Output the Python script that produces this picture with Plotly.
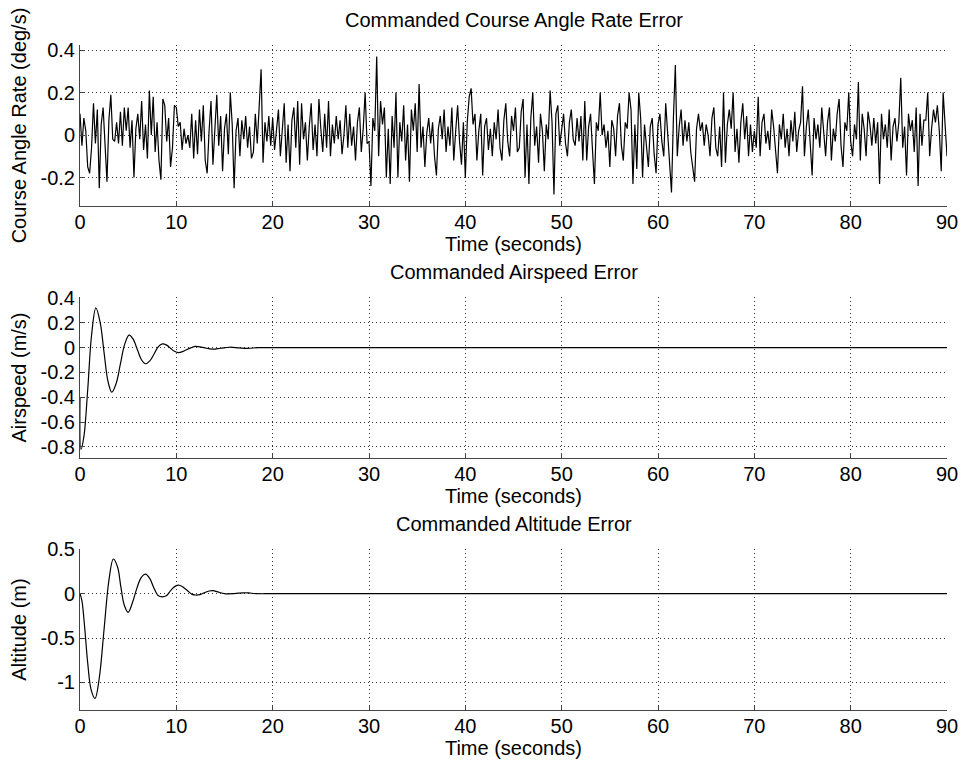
import plotly.graph_objects as go

# ---------------- data ----------------
# Course angle rate error (deg/s), sampled every 0.2 s from 0 to 90 s
t_rate_step = 0.2
rate_0_10 = [0.10, -0.05, 0.08, 0.02, -0.15, -0.18, -0.06, 0.15, -0.04, 0.12,
             -0.25, 0.05, 0.13, -0.03, -0.22, 0.07, 0.19, -0.02, -0.03, 0.06,
             -0.04, 0.11, -0.05, 0.13, 0.02, 0.13, -0.06, 0.07, -0.20, 0.03,
             0.10, -0.02, 0.16, -0.07, 0.05, -0.11, 0.21, 0.00, 0.18, -0.08,
             0.06, -0.12, -0.21, 0.17, 0.14, -0.03, 0.08, -0.15, -0.06, 0.14]
rate_10_20 = [0.13, 0.04, 0.06, -0.07, 0.03, -0.04, 0.00, -0.06, 0.10, -0.11,
              0.07, -0.09, 0.12, -0.03, 0.14, -0.12, -0.18, 0.02, 0.16, -0.14,
              0.04, 0.19, -0.05, 0.09, -0.17, 0.03, 0.10, -0.09, 0.20, 0.05,
              -0.25, 0.02, 0.08, -0.10, 0.07, -0.02, 0.09, -0.06, 0.04, -0.11,
              -0.08, 0.10, -0.04, 0.13, 0.31, -0.13, 0.06, -0.03, 0.09, -0.05]
rate_20_30 = [0.08, -0.07, 0.04, 0.12, -0.10, 0.02, 0.15, -0.13, 0.05, -0.17,
              0.07, 0.13, -0.06, 0.16, -0.14, 0.15, -0.02, 0.06, -0.12, 0.04,
              0.15, -0.07, 0.05, -0.10, 0.17, 0.03, -0.08, 0.10, -0.06, 0.16,
              -0.10, 0.05, -0.04, 0.09, -0.02, 0.07, -0.09, 0.00, 0.14, -0.06,
              0.10, -0.05, 0.04, -0.12, 0.06, 0.13, -0.08, 0.03, 0.20, -0.04]
rate_30_40 = [-0.03, -0.24, 0.08, 0.02, 0.37, -0.10, 0.16, 0.05, 0.13, -0.20,
              0.03, -0.23, 0.09, -0.06, 0.20, -0.20, 0.06, -0.03, 0.14, -0.12,
              0.05, -0.22, 0.12, 0.02, 0.15, -0.08, 0.24, -0.06, 0.04, -0.15,
              0.01, 0.08, -0.04, 0.06, -0.10, -0.19, 0.03, 0.09, -0.02, 0.12,
              -0.08, 0.04, -0.05, 0.13, -0.12, 0.02, 0.14, -0.03, -0.14, 0.06]
rate_40_50 = [-0.20, 0.06, 0.18, 0.22, 0.05, 0.10, -0.12, 0.02, 0.10, -0.19,
              0.04, 0.08, -0.07, 0.03, -0.10, 0.06, -0.02, 0.12, -0.06, -0.12,
              0.07, 0.15, -0.03, -0.10, 0.09, 0.02, 0.13, -0.08, -0.06, 0.11,
              0.17, -0.20, 0.05, -0.23, 0.08, 0.20, -0.05, 0.04, -0.13, 0.10,
              0.02, -0.17, 0.05, -0.02, 0.21, 0.06, -0.28, 0.10, 0.14, -0.05]
rate_50_60 = [0.03, 0.10, -0.04, -0.10, 0.06, 0.12, -0.02, -0.05, 0.08, -0.03,
              0.09, -0.12, 0.16, -0.12, 0.04, 0.10, -0.07, -0.23, 0.06, 0.02,
              0.20, 0.00, 0.05, -0.06, 0.02, -0.15, 0.07, 0.03, -0.10, 0.09,
              0.15, -0.05, -0.12, 0.06, 0.03, 0.20, 0.12, -0.23, 0.05, -0.16,
              0.20, 0.08, -0.20, 0.05, -0.05, -0.15, 0.04, 0.08, -0.09, -0.18]
rate_60_70 = [0.05, 0.10, -0.03, -0.10, 0.15, 0.02, -0.13, -0.27, 0.08, 0.33,
              -0.10, 0.04, 0.12, -0.05, 0.07, -0.03, 0.06, -0.08, -0.15, -0.22,
              0.03, 0.10, 0.02, 0.06, -0.05, 0.05, 0.00, -0.10, 0.08, 0.13,
              -0.06, -0.10, 0.04, -0.15, 0.20, -0.13, 0.05, 0.12, 0.03, 0.20,
              -0.08, 0.03, -0.13, 0.06, 0.15, -0.02, 0.09, -0.10, 0.05, -0.08]
rate_70_80 = [0.02, -0.06, 0.18, -0.10, 0.06, 0.10, -0.04, 0.02, -0.07, 0.12,
              0.04, -0.09, -0.18, 0.05, -0.02, 0.10, -0.06, 0.03, -0.10, 0.07,
              -0.03, 0.11, -0.08, 0.02, 0.06, 0.23, -0.10, 0.04, 0.12, -0.04,
              -0.19, 0.08, -0.02, 0.05, -0.06, 0.13, 0.01, -0.10, 0.06, 0.13,
              -0.12, 0.03, -0.03, 0.10, 0.17, -0.05, -0.15, 0.06, 0.02, 0.20]
rate_80_90 = [-0.03, -0.10, 0.05, -0.02, 0.25, -0.12, 0.10, 0.03, -0.10, 0.11,
              0.05, -0.05, 0.08, -0.04, 0.06, -0.23, 0.10, -0.02, 0.05, -0.06,
              0.12, -0.12, 0.04, 0.08, -0.03, 0.06, 0.27, -0.06, 0.04, -0.19,
              0.10, 0.02, 0.07, -0.08, 0.13, -0.24, 0.10, -0.05, 0.07, 0.07,
              0.20, -0.10, 0.03, 0.12, 0.06, 0.14, 0.02, -0.17, 0.20, 0.05,
              -0.10]
course_rate = (rate_0_10 + rate_10_20 + rate_20_30 + rate_30_40 + rate_40_50
               + rate_50_60 + rate_60_70 + rate_70_80 + rate_80_90)
course_time = [round(i * t_rate_step, 2) for i in range(len(course_rate))]

# Airspeed error (m/s)
airspeed_time = [0, 0.1, 0.4, 0.8, 1.2, 1.65, 2.1, 2.5, 2.9, 3.3, 3.75, 4.2, 4.65,
                 5.1, 5.5, 5.95, 6.4, 6.8, 7.25, 7.7, 8.1, 8.55, 9.0, 9.4, 9.8,
                 10.25, 10.7, 11.1, 11.55, 12.0, 12.85, 13.7, 14.6, 15.5, 16.5,
                 17.4, 18.5, 20, 30, 40, 50, 60, 70, 80, 90]
airspeed_err = [-0.40, -0.82, -0.72, -0.34, 0.10, 0.32, 0.20, -0.04, -0.27, -0.36,
                -0.29, -0.13, 0.03, 0.10, 0.07, -0.015, -0.10, -0.13, -0.107,
                -0.05, 0.005, 0.03, 0.02, -0.005, -0.03, -0.04, -0.03, -0.015,
                0.0, 0.01, 0.0, -0.012, -0.005, 0.003, -0.002, -0.006, 0.0, 0.0,
                0.0, 0.0, 0.0, 0.0, 0.0, 0.0, 0.0]

# Altitude error (m)
altitude_time = [0, 0.2, 0.5, 0.8, 1.15, 1.56, 2.0, 2.5, 3.0, 3.46, 3.9, 4.25, 4.6,
                 5.0, 5.45, 5.9, 6.35, 6.8, 7.25, 7.65, 8.1, 8.55, 9.0, 9.45, 9.9,
                 10.3, 10.75, 11.2, 11.6, 12.0, 12.45, 12.9, 13.4, 13.8, 14.3,
                 15.0, 16.0, 17.0, 17.5, 18.3, 20, 30, 40, 50, 60, 70, 80, 90]
altitude_err = [0.0, -0.08, -0.40, -0.78, -1.08, -1.18, -0.95, -0.40, 0.15, 0.39,
                0.30, 0.07, -0.13, -0.21, -0.10, 0.06, 0.18, 0.22, 0.17, 0.07,
                -0.02, -0.035, -0.02, 0.04, 0.085, 0.095, 0.07, 0.03, -0.005,
                -0.015, -0.01, 0.01, 0.03, 0.035, 0.02, 0.0, 0.0, 0.01, 0.008,
                0.0, 0.0, 0.0, 0.0, 0.0, 0.0, 0.0, 0.0, 0.0]

# Titles and tick labels
panel_titles = ["Commanded Course Angle Rate Error", "Commanded Airspeed Error",
                "Commanded Altitude Error"]
y_titles = ["Course Angle Rate (deg/s)", "Airspeed (m/s)", "Altitude (m)"]
x_title = "Time (seconds)"
x_tickvals = [0, 10, 20, 30, 40, 50, 60, 70, 80, 90]
x_ticktext = ["0", "10", "20", "30", "40", "50", "60", "70", "80", "90"]
y1_tickvals = [-0.2, 0, 0.2, 0.4]
y1_ticktext = ["-0.2", "0", "0.2", "0.4"]
y2_tickvals = [-0.8, -0.6, -0.4, -0.2, 0, 0.2, 0.4]
y2_ticktext = ["-0.8", "-0.6", "-0.4", "-0.2", "0", "0.2", "0.4"]
y3_tickvals = [-1, -0.5, 0, 0.5]
y3_ticktext = ["-1", "-0.5", "0", "0.5"]

# ---------------- figure ----------------
FONT = "Arial, Liberation Sans, Helvetica, sans-serif"
FS = 20
W, H = 963, 765
ML, MR, MT, MB = 80, 16, 45, 55
ph = H - MT - MB

def dom(top_px, bot_px):
    return [(H - MB - bot_px) / ph, (H - MB - top_px) / ph]

doms = [dom(45, 206), dom(297, 458), dom(549, 710)]
yranges = [[-0.334, 0.424], [-0.89, 0.408], [-1.31, 0.503]]
yticks = [(y1_tickvals, y1_ticktext), (y2_tickvals, y2_ticktext), (y3_tickvals, y3_ticktext)]

fig = go.Figure()
series = [(course_time, course_rate, "linear"),
          (airspeed_time, airspeed_err, "spline"),
          (altitude_time, altitude_err, "spline")]
for i, (tx, ty, shape) in enumerate(series):
    sfx = "" if i == 0 else str(i + 1)
    fig.add_trace(go.Scatter(x=tx, y=ty, mode="lines",
                             line=dict(color="black", width=1.2, shape=shape),
                             xaxis="x" + sfx, yaxis="y" + sfx, showlegend=False))

axis_common = dict(showline=True, linecolor="#444", linewidth=1, mirror=False,
                   ticks="inside", ticklen=5, tickcolor="#444",
                   showgrid=True, gridcolor="#333", gridwidth=1, griddash="1px,3px",
                   zeroline=False, automargin=False, ticklabeloverflow="allow",
                   tickfont=dict(family=FONT, size=FS, color="black"))

layout = dict(width=W, height=H, autosize=False,
              margin=dict(l=ML, r=MR, t=MT, b=MB, pad=0, autoexpand=False),
              paper_bgcolor="white", plot_bgcolor="white",
              font=dict(family=FONT, size=FS, color="black"),
              annotations=[])
for i in range(3):
    sfx = "" if i == 0 else str(i + 1)
    layout["xaxis" + sfx] = dict(axis_common, domain=[0, 1], range=[0, 90],
                                 tickvals=x_tickvals, ticktext=x_ticktext,
                                 anchor="y" + sfx, ticklabelstandoff=-2,
                                 title=dict(text=x_title, standoff=2,
                                            font=dict(family=FONT, size=FS)))
    layout["yaxis" + sfx] = dict(axis_common, domain=doms[i], range=yranges[i],
                                 tickvals=yticks[i][0], ticktext=yticks[i][1],
                                 anchor="x" + sfx,
                                 title=dict(text=y_titles[i], standoff=8,
                                            font=dict(family=FONT, size=FS)))
    layout["annotations"].append(dict(text=panel_titles[i], xref="paper", yref="paper",
                                      x=0.5, y=doms[i][1], xanchor="center",
                                      yanchor="bottom", yshift=12, showarrow=False,
                                      font=dict(family=FONT, size=FS)))
fig.update_layout(layout)
fig.write_html("out.html")
